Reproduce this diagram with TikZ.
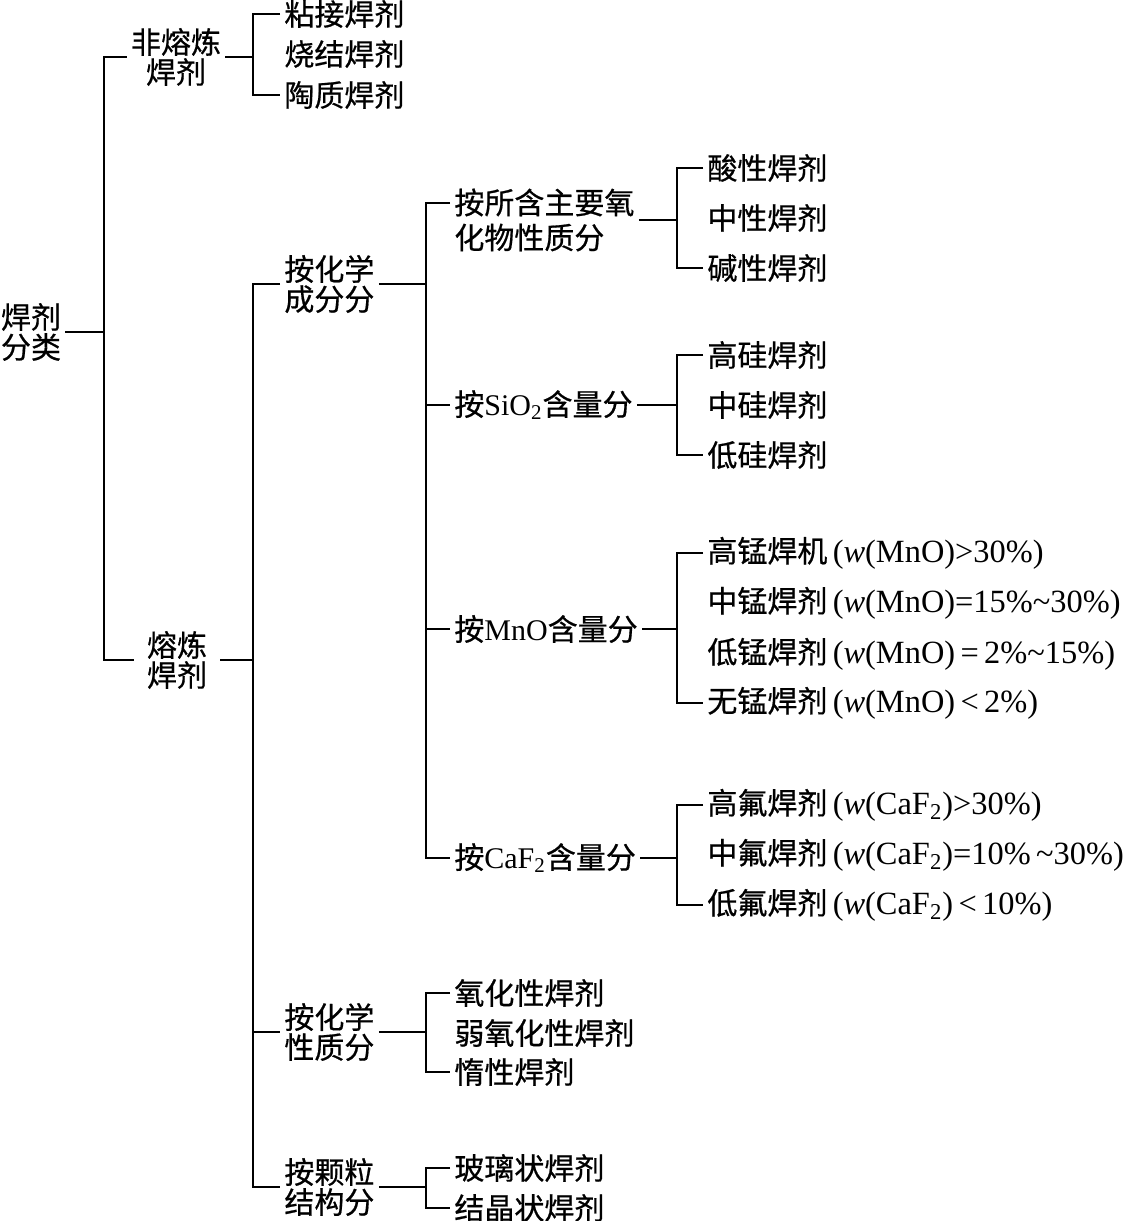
\documentclass[tikz,border=0pt]{standalone}
\usepackage{fontspec}
\setmainfont{Liberation Serif}
\newfontfamily\cjk[FakeBold=0.6]{Noto Sans CJK SC}
\usetikzlibrary{calc}
\newcommand{\ltn}[1]{{\rmfamily #1}}
\newcommand{\frm}[1]{{\rmfamily\fontsize{16.2}{15}\selectfont\,#1}}

\begin{document}
\begin{tikzpicture}[x=.5pt,y=-.5pt,line width=1.4pt,
    font=\cjk\fontsize{15}{15}\selectfont,
    leaf/.style={anchor=west,inner sep=1.5pt},
    head/.style={align=center,inner sep=1.5pt},
    sub/.style={leaf,align=left}]
    \useasboundingbox (0,0) rectangle (1130,1221);
    % first levels
    \node[head] (root) at (31,332) {焊剂\\分类};
    \node[head] (fei) at (176,57) {非熔炼\\焊剂};
    \node[head,inner xsep=6pt] (rong) at (177,660) {熔炼\\焊剂};
    \coordinate (t0) at (104,332);
    \coordinate (t1) at (253,57);
    \coordinate (t2) at (253,660);
    \draw (root) -- (t0);
    \draw (fei.west) -| (t0) |- (rong.west);
    \draw (fei) -- (t1);
    \draw (rong) -- (t2);
    \foreach \n/\y/\t in {f1/14/粘接焊剂, f2/54/烧结焊剂, f3/95/陶质焊剂}
      \node[leaf] (\n) at (280,\y) {\t};
    \draw (f1.west) -| (t1) |- (f3.west);
    % ways of dividing the melted fluxes
    \node[sub] (chem) at (280,284) {按化学\\成分分};
    \node[sub] (prop) at (280,1032) {按化学\\性质分};
    \node[sub] (grain) at (280,1187) {按颗粒\\结构分};
    \draw (chem.west) -| (t2) |- (grain.west);
    \draw (t2) |- (prop.west);
    \coordinate (t3) at (426,284);
    \draw (chem) -- (t3);
    \node[sub] (oxd) at (450,220) {按所含主要氧\\[2.5pt]化物性质分};
    \node[leaf] (sio) at (450,405) {按\ltn{SiO\textsubscript{2}}含量分};
    \node[leaf] (mno) at (450,629) {按\ltn{MnO}含量分};
    \node[leaf] (caf) at (450,858) {按\ltn{CaF\textsubscript{2}}含量分};
    \draw ($(oxd.west)+(0,-17)$) -| (t3) |- (caf.west);
    \draw (t3) |- (sio.west);
    \draw (t3) |- (mno.west);
    % leaves
    \foreach \n/\y/\t in {a1/168/酸性焊剂, a2/218/中性焊剂, a3/268/碱性焊剂,
        s1/355/高硅焊剂, s2/405/中硅焊剂, s3/455/低硅焊剂}
      \node[leaf] (\n) at (703,\y) {\t};
    \node[leaf] (m1) at (703,553) {高锰焊机\frm{(\textit{w}(MnO)>30\%)}};
    \node[leaf] (m2) at (703,603) {中锰焊剂\frm{(\textit{w}(MnO)=15\%\textasciitilde30\%)}};
    \node[leaf] (m3) at (703,654) {低锰焊剂\frm{(\textit{w}(MnO)\,=\,2\%\textasciitilde15\%)}};
    \node[leaf] (m4) at (703,703) {无锰焊剂\frm{(\textit{w}(MnO)\,<\,2\%)}};
    \node[leaf] (c1) at (703,805) {高氟焊剂\frm{(\textit{w}(CaF\textsubscript{2})>30\%)}};
    \node[leaf] (c2) at (703,855) {中氟焊剂\frm{(\textit{w}(CaF\textsubscript{2})=10\%\,\textasciitilde30\%)}};
    \node[leaf] (c3) at (703,905) {低氟焊剂\frm{(\textit{w}(CaF\textsubscript{2})\,<\,10\%)}};
    \foreach \n/\y/\t in {p1/993/氧化性焊剂, p2/1033/弱氧化性焊剂, p3/1072/惰性焊剂,
        g1/1168/玻璃状焊剂, g2/1208/结晶状焊剂}
      \node[leaf] (\n) at (450,\y) {\t};
    % brackets to the leaves
    \coordinate (t4) at (677,220);
    \coordinate (t5) at (677,405);
    \coordinate (t6) at (677,629);
    \coordinate (t7) at (677,858);
    \coordinate (t8) at (426,1032);
    \coordinate (t9) at (426,1187);
    \foreach \p/\t/\a/\b in {oxd/t4/a1/a3, sio/t5/s1/s3, mno/t6/m1/m4,
        caf/t7/c1/c3, prop/t8/p1/p3, grain/t9/g1/g2}{
      \draw (\p) -- (\t);
      \draw (\a.west) -| (\t) |- (\b.west);
    }
  \end{tikzpicture}
\end{document}
